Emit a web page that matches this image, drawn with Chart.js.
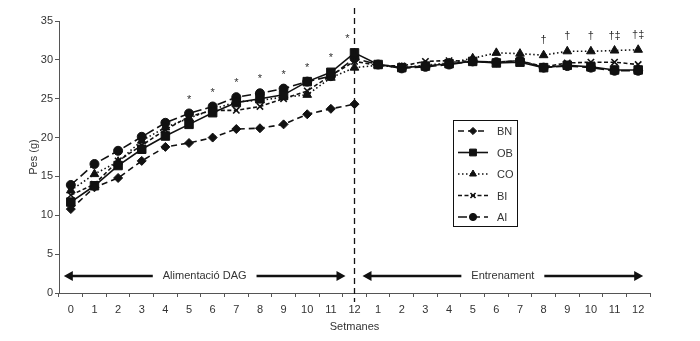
<!DOCTYPE html>
<html>
<head>
<meta charset="utf-8">
<script src="https://cdn.jsdelivr.net/npm/chart.js@4/dist/chart.umd.min.js"></script>
<style>
  html, body { margin: 0; padding: 0; background: #fff; }
  #wrap { width: 700px; height: 341px; }
</style>
</head>
<body>
<div id="wrap"><canvas id="pes"></canvas></div>
<script>
// Setmanes: 0..12 alimentació, després 1..12 entrenament
const setmanes = ["0","1","2","3","4","5","6","7","8","9","10","11","12",
                  "1","2","3","4","5","6","7","8","9","10","11","12"];

const pesBN = [10.8, 13.6, 14.8, 17.0, 18.8, 19.3, 20.0, 21.1, 21.2, 21.7, 23.0, 23.7, 24.3,
               null, null, null, null, null, null, null, null, null, null, null, null];
const pesOB = [11.7, 13.8, 16.4, 18.5, 20.2, 21.7, 23.2, 24.5, 25.0, 25.5, 27.2, 28.4, 30.9,
               29.4, 29.0, 29.2, 29.5, 29.8, 29.6, 29.7, 29.0, 29.3, 29.1, 28.7, 28.7];
const pesCO = [13.2, 15.3, 16.9, 19.6, 21.3, 22.5, 23.6, 24.6, 24.8, 25.2, 25.5, 27.7, 29.0,
               29.3, 29.0, 29.3, 29.6, 30.2, 30.9, 30.8, 30.6, 31.1, 31.1, 31.2, 31.3];
const pesBI = [12.6, 14.0, 17.0, 19.0, 21.0, 22.7, 23.5, 23.5, 24.0, 25.0, 26.0, 28.0, 29.8,
               29.3, 29.2, 29.8, 29.9, 29.8, 29.7, 29.9, 29.1, 29.6, 29.7, 29.7, 29.4];
const pesAI = [13.9, 16.6, 18.3, 20.1, 21.9, 23.1, 24.0, 25.2, 25.7, 26.3, 27.2, 27.9, 30.2,
               29.4, 28.9, 29.1, 29.4, 29.8, 29.7, 29.9, 29.0, 29.2, 29.0, 28.6, 28.6];

// significació
const idxAsterisc = [5, 6, 7, 8, 9, 10, 11, 12];
const idxCreu = [20, 21, 22, 23, 24];
const textCreu = ["†", "†", "†", "†‡", "†‡"];

const negre = "#111";
const gris = "#333";
const font = "Liberation Sans, Arial, Helvetica, sans-serif";

function serie(label, data, dash, style, r) {
  return {
    label: label,
    data: data,
    borderColor: negre,
    borderWidth: 1.6,
    borderDash: dash,
    pointStyle: style,
    pointRadius: r,
    pointHoverRadius: r,
    pointBackgroundColor: negre,
    pointBorderColor: negre,
    pointBorderWidth: style === "crossRot" ? 1.6 : 1,
    tension: 0,
    spanGaps: false
  };
}

const datasets = [
  serie("BN", pesBN, [6, 4], "rectRot", 4.5),
  serie("OB", pesOB, [], "rect", 6),
  serie("CO", pesCO, [1.5, 2.5], "triangle", 5),
  serie("BI", pesBI, [4, 2.5], "crossRot", 4.5),
  serie("AI", pesAI, [9, 4], "circle", 4.5)
];

function marca(ctx, style, x, y, r) {
  if (Chart.helpers && Chart.helpers.drawPoint) {
    Chart.helpers.drawPoint(ctx, { pointStyle: style, radius: r, borderWidth: 1, rotation: 0 }, x, y);
    return;
  }
  ctx.beginPath();
  ctx.arc(x, y, r, 0, Math.PI * 2);
  ctx.fill();
}

function fletxa(ctx, x1, x2, y, text) {
  ctx.save();
  ctx.font = "11px " + font;
  const w = ctx.measureText(text).width;
  const mid = (x1 + x2) / 2;
  const gap = w / 2 + 10;
  ctx.strokeStyle = negre;
  ctx.fillStyle = negre;
  ctx.lineWidth = 2.5;
  ctx.beginPath();
  ctx.moveTo(x1 + 6, y); ctx.lineTo(mid - gap, y);
  ctx.moveTo(mid + gap, y); ctx.lineTo(x2 - 6, y);
  ctx.stroke();
  ctx.beginPath();
  ctx.moveTo(x1, y); ctx.lineTo(x1 + 9, y - 5); ctx.lineTo(x1 + 9, y + 5); ctx.closePath();
  ctx.moveTo(x2, y); ctx.lineTo(x2 - 9, y - 5); ctx.lineTo(x2 - 9, y + 5); ctx.closePath();
  ctx.fill();
  ctx.fillStyle = gris;
  ctx.textAlign = "center";
  ctx.textBaseline = "middle";
  ctx.fillText(text, mid, y);
  ctx.restore();
}

const extres = {
  id: "extres",
  afterDatasetsDraw(chart) {
    const ctx = chart.ctx;
    const xs = chart.scales.x;
    const ys = chart.scales.y;
    const area = chart.chartArea;

    // línia vertical discontínua a la setmana 12
    const x12 = xs.getPixelForValue(12);
    ctx.save();
    ctx.strokeStyle = negre;
    ctx.lineWidth = 1.3;
    ctx.setLineDash([6, 4]);
    ctx.beginPath();
    ctx.moveTo(x12, 8);
    ctx.lineTo(x12, area.bottom + 9);
    ctx.stroke();
    ctx.restore();

    // asteriscs i creus
    ctx.save();
    ctx.fillStyle = gris;
    ctx.textAlign = "center";
    ctx.textBaseline = "middle";
    ctx.font = "11px " + font;
    idxAsterisc.forEach(i => {
      const vals = [pesBN[i], pesOB[i], pesCO[i], pesBI[i], pesAI[i]].filter(v => v !== null);
      const top = ys.getPixelForValue(Math.max.apply(null, vals));
      const dx = i === 12 ? -7 : 0;
      ctx.fillText("*", xs.getPixelForValue(i) + dx, top - 14);
    });
    idxCreu.forEach((i, k) => {
      const top = ys.getPixelForValue(pesCO[i]);
      ctx.fillText(textCreu[k], xs.getPixelForValue(i), top - 15);
    });
    ctx.restore();

    // fletxes de fase
    const yF = ys.getPixelForValue(2.2);
    fletxa(ctx, xs.getPixelForValue(0) - 7, x12 - 9, yF, "Alimentació DAG");
    fletxa(ctx, x12 + 8, xs.getPixelForValue(24) + 5, yF, "Entrenament");

    // llegenda
    const lx = 453, ly = 120, lw = 64, lh = 106;
    ctx.save();
    ctx.fillStyle = "#fff";
    ctx.fillRect(lx, ly, lw, lh);
    ctx.strokeStyle = negre;
    ctx.lineWidth = 1;
    ctx.strokeRect(lx + 0.5, ly + 0.5, lw, lh);
    chart.data.datasets.forEach((ds, k) => {
      const y = ly + 11 + k * 21.5;
      ctx.strokeStyle = negre;
      ctx.lineWidth = 1.6;
      ctx.setLineDash(ds.borderDash);
      ctx.beginPath();
      ctx.moveTo(lx + 5, y);
      ctx.lineTo(lx + 35, y);
      ctx.stroke();
      ctx.setLineDash([]);
      ctx.fillStyle = negre;
      ctx.strokeStyle = negre;
      ctx.lineWidth = ds.pointBorderWidth;
      marca(ctx, ds.pointStyle, lx + 20, y, ds.pointRadius * 0.8);
      ctx.fillStyle = gris;
      ctx.font = "11px " + font;
      ctx.textAlign = "left";
      ctx.textBaseline = "middle";
      ctx.fillText(ds.label, lx + 44, y + 1);
    });
    ctx.restore();
  }
};

new Chart(document.getElementById("pes"), {
  type: "line",
  data: { labels: setmanes, datasets: datasets },
  plugins: [extres],
  options: {
    responsive: true,
    maintainAspectRatio: false,
    animation: false,
    events: [],
    layout: { padding: { left: 0, right: 50, top: 21, bottom: 0 } },
    plugins: {
      legend: { display: false },
      tooltip: { enabled: false }
    },
    scales: {
      x: {
        offset: true,
        afterFit: s => { s.height = 48; },
        grid: { offset: true, drawOnChartArea: false, tickLength: 4, color: "#555", tickColor: "#555" },
        border: { color: "#555", width: 1 },
        ticks: { color: gris, font: { family: font, size: 11 }, padding: 6, autoSkip: false, maxRotation: 0 },
        title: { display: true, text: "Setmanes", color: gris, font: { family: font, size: 11 }, padding: { top: 7, bottom: 7 } }
      },
      y: {
        min: 0,
        max: 35,
        afterFit: s => { s.width = 59; },
        grid: { drawOnChartArea: false, tickLength: 4, color: "#555", tickColor: "#555" },
        border: { color: "#555", width: 1 },
        ticks: { stepSize: 5, color: gris, font: { family: font, size: 11 }, padding: 2 },
        title: { display: true, text: "Pes (g)", color: gris, font: { family: font, size: 11 }, padding: { top: 27, bottom: 0 } }
      }
    }
  }
});
</script>
</body>
</html>
